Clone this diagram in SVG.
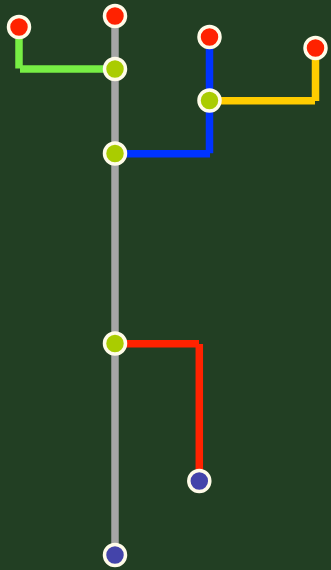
<svg xmlns="http://www.w3.org/2000/svg" width="331" height="570" viewBox="0 0 331 570">
<style>
.ln{fill:none;stroke-linecap:butt;stroke-width:7.5}
.nd{stroke:#fffbe8;stroke-width:3.5}
.red{fill:#ff2200}
.lime{fill:#aacc00}
.blu{fill:#4444aa}
</style>
<rect width="331" height="570" fill="#223f23"/>
<g id="connectors">
<line class="ln" x1="115" y1="16" x2="115" y2="555" stroke="#a6a6a6" stroke-width="8"/>
<line class="ln" x1="19" y1="27" x2="19" y2="68.5" stroke="#77ee44"/>
<line class="ln" x1="20" y1="69" x2="115" y2="69" stroke="#77ee44"/>
<line class="ln" x1="209.5" y1="37" x2="209.5" y2="153.3" stroke="#0033ff"/>
<line class="ln" x1="115" y1="153.7" x2="210" y2="153.7" stroke="#0033ff"/>
<line class="ln" x1="315.5" y1="48" x2="315.5" y2="101" stroke="#ffcc00"/>
<line class="ln" x1="209" y1="100.8" x2="315" y2="100.8" stroke="#ffcc00"/>
<line class="ln" x1="115" y1="343.7" x2="199" y2="343.7" stroke="#ff2200"/>
<line class="ln" x1="199.3" y1="344" x2="199.3" y2="481" stroke="#ff2200"/>
</g>
<g id="n1"><circle class="nd red" cx="19" cy="27" r="10.5"/></g>
<g id="n2"><circle class="nd red" cx="115" cy="16" r="10.5"/></g>
<g id="n3"><circle class="nd red" cx="209.5" cy="37" r="10.5"/></g>
<g id="n4"><circle class="nd red" cx="315.5" cy="48" r="10.5"/></g>
<g id="n5"><circle class="nd lime" cx="115" cy="69" r="10.5"/></g>
<g id="n6"><circle class="nd lime" cx="209.5" cy="100.5" r="10.5"/></g>
<g id="n7"><circle class="nd lime" cx="115" cy="153.5" r="10.5"/></g>
<g id="n8"><circle class="nd lime" cx="115" cy="343.5" r="10.5"/></g>
<g id="n9"><circle class="nd blu" cx="199.3" cy="481" r="10.5"/></g>
<g id="n10"><circle class="nd blu" cx="115" cy="555" r="10.5"/></g>
</svg>
